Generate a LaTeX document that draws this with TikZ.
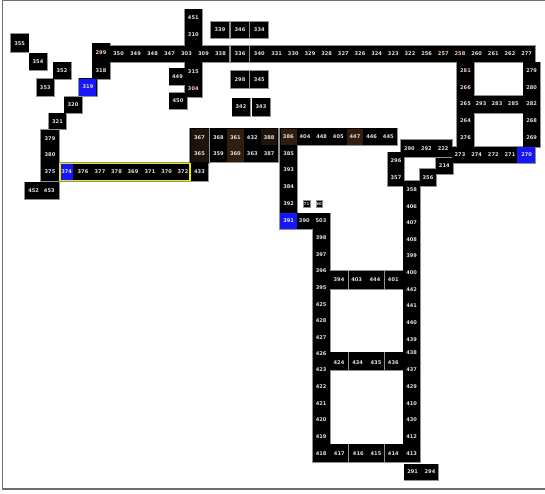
\documentclass[tikz,border=0pt]{standalone}
\usepackage{fontspec}
\setsansfont{DejaVu Sans}
\usepackage{xcolor}
\usepackage{tikz}
\usetikzlibrary{positioning}

\definecolor{roomblue}{RGB}{22,22,250}
\definecolor{roombrown}{RGB}{50,30,16}
\definecolor{roomdark}{RGB}{30,20,12}
\definecolor{labelgray}{RGB}{225,225,225}
\definecolor{labelpink}{RGB}{245,205,190}
\definecolor{edgegray}{RGB}{145,145,145}
\definecolor{framegray}{RGB}{110,110,110}
\definecolor{pathyellow}{RGB}{235,235,0}

% room blocks as x1/y1/x2/y2 in pixels from the top left
\newcommand{\roomblocks}{%
  11/34/28.5/52, 29.3/53.3/46.7/70, 53.3/62.3/70.7/79, 36.7/79/54/96,
  79/78.3/96.7/96, 64.3/96.7/81.7/113.3, 49/113.3/66/129.3,
  92.3/43.3/110/79, 110/45.7/229/62.3, 185/9.3/201.7/96.7,
  169.3/68.3/185/85, 169.3/92.7/186.7/109.3,
  211/21.7/229.3/38.3, 231/21.7/249/38.3, 250.3/21.7/268.3/38.3,
  230.7/45.7/249/62.3, 250.3/45.7/268.3/62.3, 268.3/45.7/535/62.3,
  231/71/249/88.3, 250.3/71/268.3/88.3, 232.3/98.3/250/115.7, 252.3/98.3/270/115.7,
  456.7/62.3/474.3/146.7, 523.3/62.3/540/146.7, 456.7/95.7/540/112.7,
  451.7/146.7/535/162.7, 401/140/451.7/156.7, 387.7/152.3/404.3/186,
  436/157.7/452.7/174.3, 420/169/436/186, 403.3/181/420/462.3,
  190/128.3/209/162.7, 190/162.7/208.3/181, 210/128.3/277.7/162.3,
  280/128.3/396.7/145, 280/145/297.3/229.3, 297.3/213.3/330/229.3,
  312.5/229.3/330/462.3, 330/271/403.3/289.3, 330/352.3/403.3/370,
  330/444.3/403.3/462.3, 404.3/464.3/438.3/480,
  41/130/59.3/181, 59.3/162.7/190/181, 25/182.3/59.3/199.3}

\begin{document}
\begin{tikzpicture}[x=1pt, y=-1pt,
    font=\sffamily\bfseries\fontsize{5.1}{6}\selectfont,
    lbl/.style={text=labelgray, inner sep=0pt},
    hot/.style={lbl, text=labelpink},
    stubroom/.style={fill=black, draw=edgegray, line width=0.4pt, text=labelgray,
      font=\sffamily\bfseries\fontsize{3.8}{4}\selectfont, inner sep=0.4pt, minimum size=6.5pt},
    edge/.style={draw=edgegray, line width=1.6pt}]
  \useasboundingbox (0,0) rectangle (545,493);
  % frame
  \draw[framegray, line width=1.3pt] (545,0.8) -- (2.5,0.8) -- (2.5,488.9) -- (545,488.9);
  % outlines first, then black fill on top
  \foreach \a/\b/\c/\d in \roomblocks
    \draw[edge] (\a,\b) rectangle (\c,\d);
  \foreach \a/\b/\c/\d in \roomblocks
    \fill[black] (\a,\b) rectangle (\c,\d);
  % tinted rooms
  \fill[roombrown] (280.6,128.8) rectangle (296.7,145);
  \fill[roombrown] (346.7,128.8) rectangle (363.3,145);
  \fill[roombrown] (226.9,128.8) rectangle (243.8,145.3);
  \fill[roombrown] (226.9,145.3) rectangle (243.8,161.8);
  \fill[roomdark] (260.8,128.8) rectangle (277.2,145.3);
  \fill[roomdark] (190.5,128.8) rectangle (208.5,162.2);
  \fill[roomblue] (79.4,78.7) rectangle (96.3,95.6);
  \fill[roomblue] (280.4,213.3) rectangle (297.3,229.3);
  \fill[roomblue] (516.7,146.7) rectangle (535,162.5);
  % dividers
  \foreach \y/\h in {271/289.3, 352.3/370, 444.3/462.3} {
    \draw[edgegray, line width=0.8pt] (348.3,\y) -- (348.3,\h);
    \draw[edgegray, line width=0.8pt] (384.3,\y) -- (384.3,\h);
  }
  % marked path
  \fill[roomblue] (60.3,163.4) rectangle (73.3,180.3);
  \draw[pathyellow, line width=1.3pt] (59.9,163.3) rectangle (190,180.4);

  % west rooms
  \foreach \n/\x/\y in {355/19.7/43.2, 354/38/61.7, 352/62/70.7, 353/45.3/87.5,
      319/88/87, 320/73/105, 321/57.5/121.5, 318/101/70.3}
    \node[lbl] (r\n) at (\x,\y) {\n};
  \node[hot] (r299) at (101,52.5) {299};
  % top corridor
  \foreach \n/\x in {350/118.5, 349/135.5, 348/152.5, 347/169.5, 303/186.5, 309/203.5,
      338/220.5, 336/240, 340/259.3, 331/276.6, 330/293.3, 329/310, 328/326.6,
      327/343.3, 326/360, 324/376.6, 323/393.3, 322/410, 256/426.6, 260/476.6,
      261/493.3, 262/510, 277/526.6}
    \node[lbl] (r\n) at (\x,54) {\n};
  \node[hot] (r257) at (443.3,54) {257};
  \node[hot] (r258) at (460,54) {258};
  \foreach \n/\y in {451/18, 310/35, 315/72}
    \node[lbl] (r\n) at (193.3,\y) {\n};
  \node[hot] (r304) at (193.3,89) {304};
  \foreach \n/\x/\y in {449/177.5/76.7, 450/178/101, 339/220/30, 346/240/30,
      334/259.3/30, 298/240/79.7, 345/259.3/79.7, 342/241/107, 343/261/107}
    \node[lbl] (r\n) at (\x,\y) {\n};
  % east loop
  \node[hot] (r281) at (465.5,70.7) {281};
  \node[hot] (r266) at (465.5,87.5) {266};
  \foreach \n/\x/\y in {264/465.5/121, 276/465.5/137.3, 279/531.7/70.7, 280/531.7/87.5,
      268/531.7/121, 269/531.7/137.3, 265/465.5/104, 293/481/104, 283/497/104,
      285/513.3/104, 282/531.7/104}
    \node[lbl] (r\n) at (\x,\y) {\n};
  \foreach \n/\x in {273/460, 274/476.7, 272/493.3, 271/510, 270/526.7}
    \node[lbl] (r\n) at (\x,154.7) {\n};
  \foreach \n/\x/\y in {290/409.4/148.5, 292/426.4/148.5, 222/443.2/148.5,
      296/396/161, 357/396/177.3, 214/444.3/166, 356/428/177.5}
    \node[lbl] (r\n) at (\x,\y) {\n};
  % east wing
  \foreach \n/\y in {358/190, 406/206.7, 407/222.7, 408/239.3, 399/256, 400/272.7,
      442/289.3, 441/306, 440/322.7, 439/339.3, 438/352.7, 437/369.3, 429/386.7,
      410/403.3, 430/420, 412/436.7, 413/454}
    \node[lbl] (r\n) at (411.7,\y) {\n};
  \foreach \n/\y in {398/237.7, 397/254.3, 396/271, 395/287.7, 425/304.5, 428/321,
      427/337.7, 426/353.3, 423/370, 422/386.7, 421/403.3, 420/420, 419/436.7, 418/454}
    \node[lbl] (r\n) at (321.2,\y) {\n};
  \foreach \n/\x in {394/339, 403/356.7, 444/375, 401/393.3}
    \node[lbl] (r\n) at (\x,280) {\n};
  \foreach \n/\x in {424/339, 434/357.7, 435/376, 436/393.3}
    \node[lbl] (r\n) at (\x,362.3) {\n};
  \foreach \n/\x in {417/339.3, 416/358.3, 415/376, 414/393.3}
    \node[lbl] (r\n) at (\x,454) {\n};
  \node[lbl] (r291) at (412.7,472) {291};
  \node[lbl] (r294) at (430,472) {294};
  % middle hall
  \foreach \n/\y in {385/153.3, 393/170, 384/186.7, 392/203.3, 391/221}
    \node[lbl] (r\n) at (288.7,\y) {\n};
  \node[lbl] (r390) at (304.3,221) {390};
  \node[lbl] (r503) at (321,221) {503};
  \foreach \n/\x in {386/288.3, 404/305, 448/321.7, 405/338.3, 447/355, 446/371.7, 445/388.3}
    \node[lbl] (r\n) at (\x,136.7) {\n};
  \node[stubroom] (r71) at (306.5,203.8) {71};
  \node[stubroom] (r80) at (319,203.8) {80};
  \foreach \n/\y in {367/137.3, 365/153.3, 433/171.7}
    \node[lbl] (r\n) at (199.5,\y) {\n};
  \foreach \n/\x in {368/218.4, 361/235.4, 432/252.3, 388/269.2}
    \node[lbl] (r\n) at (\x,137.3) {\n};
  \foreach \n/\x in {359/218.4, 360/235.4, 363/252.3, 387/269.2}
    \node[lbl] (r\n) at (\x,153.3) {\n};
  % west wing
  \foreach \n/\y in {379/138.3, 380/154.3, 375/171.7}
    \node[lbl] (r\n) at (50,\y) {\n};
  \foreach \n/\x in {374/66.7, 376/83, 377/100, 378/116.5, 369/133, 371/150, 370/166.7, 372/183}
    \node[lbl] (r\n) at (\x,171.7) {\n};
  \node[lbl] (r452) at (33.7,190.8) {452};
  \node[lbl] (r453) at (49.3,190.8) {453};
\end{tikzpicture}
\end{document}
